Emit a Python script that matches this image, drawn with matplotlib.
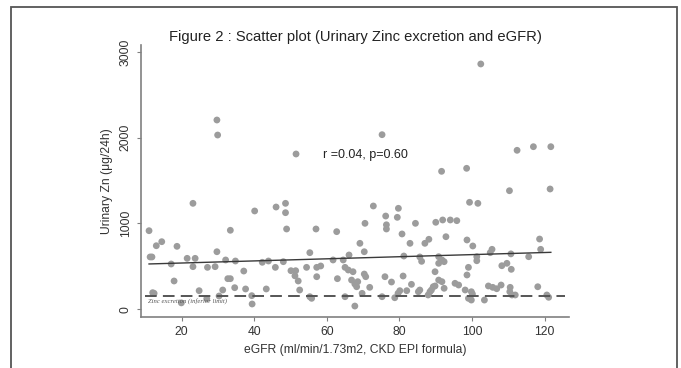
import numpy as np
import matplotlib
matplotlib.use("Agg")
import matplotlib.pyplot as plt
from matplotlib.patches import Rectangle

plt.rcParams['font.family'] = ['Liberation Sans', 'DejaVu Sans']

# eGFR (x) and urinary zinc (y)
egfr = [11.0, 13.0, 14.5, 18.7, 11.3, 11.8, 17.1, 21.5, 23.7, 23.1, 27.1, 29.2, 29.7, 33.4,
        32.1, 34.8, 17.9, 12.0, 12.4, 24.8, 19.9, 26.9, 30.3, 31.3, 32.7, 33.4, 34.6, 37.1,
        37.6, 39.3, 39.4, 40.1, 46.0, 48.6, 48.6, 48.9, 42.2, 43.9, 43.3, 45.8, 48.0, 23.1,
        29.7, 29.9, 51.5,
        57.0, 62.7, 72.8, 70.5, 76.2, 76.4, 76.4, 79.7, 79.4, 84.4, 80.7, 82.9, 87.0, 88.1,
        69.1, 70.3, 55.3, 66.1, 64.5, 61.7, 81.2, 86.1, 85.6, 50.1, 51.4, 51.2, 52.1, 54.4,
        57.2, 58.3, 57.2, 65.0, 65.9, 62.9, 67.2, 70.3, 70.7, 66.8, 67.7, 68.5, 68.2, 71.8,
        69.7, 76.0, 77.8, 81.0, 83.3, 85.6, 85.2, 82.0, 80.1, 79.6, 52.5, 55.3, 55.8, 65.0,
        67.7, 75.2, 78.7, 87.9, 88.8, 75.2,
        110.3, 121.5, 99.3, 101.6, 90.0, 91.9, 94.0, 95.8, 92.8, 98.6, 100.2, 105.5, 105.0,
        118.6, 118.9, 110.7, 115.6, 90.8, 91.7, 90.8, 92.3, 101.3, 101.3, 108.2, 109.6, 110.8,
        99.0, 98.6, 89.8, 90.8, 91.7, 92.3, 89.8, 95.3, 96.3, 98.1, 99.8, 100.1, 99.0, 99.8,
        103.4, 104.5, 105.7, 106.8, 108.0, 110.5, 111.0, 111.9, 118.1, 120.6, 121.1, 102.4,
        112.4, 116.9, 121.7, 91.6, 98.5, 88.4, 89.3, 110.4]
zinc = [916, 741, 788, 734, 610, 610, 528, 594, 594, 497, 489, 497, 671, 921,
        575, 563, 330, 194, 186, 217, 75, 124, 155, 225, 357, 357, 252, 446,
        237, 159, 62, 1146, 1192, 1235, 1126, 936, 548, 563, 237, 489, 555, 1235,
        2206, 2031, 1810,
        936, 905, 1204, 1002, 1087, 985, 936, 1177, 1072, 1002, 878, 769, 769, 816,
        769, 671, 660, 633, 575, 575, 621, 559, 610, 450, 450, 390, 330, 489,
        489, 505, 380, 489, 458, 357, 438, 411, 380, 341, 295, 322, 263, 256,
        186, 380, 318, 388, 291, 225, 205, 217, 217, 186, 225, 147, 128, 147,
        38, 147, 135, 167, 225, 2035,
        1382, 1402, 1247, 1235, 1014, 1041, 1041, 1033, 846, 808, 738, 699, 660,
        819, 699, 646, 613, 613, 575, 536, 555, 613, 566, 508, 536, 466,
        489, 400, 438, 341, 322, 245, 272, 303, 283, 225, 205, 178, 128, 108,
        108, 272, 256, 240, 283, 256, 167, 167, 263, 167, 140, 2859,
        1853, 1895, 1895, 1608, 1643, 205, 263, 205]

fit_intercept = 515
fit_slope = 1.224
lower_limit = 160
x_ticks = [20, 40, 60, 80, 100, 120]
y_ticks = [0, 1000, 2000, 3000]

fig = plt.figure(figsize=(6.81, 3.68), dpi=100)
ax = fig.add_axes([0.2066, 0.1378, 0.6289, 0.7399])

ax.scatter(egfr, zinc, s=24, color='#9c9c9c', edgecolors='none', zorder=2)

xs = np.array([min(egfr), max(egfr)])
ax.plot(xs, fit_intercept + fit_slope * xs, color='#3a3a3a', lw=1.0, zorder=3)
ax.axhline(lower_limit, xmin=0.01, xmax=0.99, color='#555555', lw=1.4,
           dashes=(6, 3.2), zorder=3)
ax.text(10.6, lower_limit - 30, 'Zinc excretion (inferior limit)', fontsize=4.8,
        style='italic', color='#555555', va='top', ha='left',
        family=['Liberation Serif', 'DejaVu Serif'])

ax.text(58.9, 1800, 'r =0.04, p=0.60', fontsize=9, color='#222222', va='center')

ax.set_xlim(8.7, 126.7)
ax.set_ylim(-93, 3080)
ax.set_xticks(x_ticks)
ax.set_yticks(y_ticks)
ax.set_yticklabels([str(v) for v in y_ticks], rotation=90, va='center')

for side in ['top', 'right']:
    ax.spines[side].set_visible(False)
for side in ['left', 'bottom']:
    ax.spines[side].set_color('#808080')
    ax.spines[side].set_linewidth(1.2)
ax.tick_params(colors='#808080', labelcolor='#333333', labelsize=8.7, length=3, width=0.8)

ax.set_xlabel('eGFR (ml/min/1.73m2, CKD EPI formula)', fontsize=8.7, color='#333333', labelpad=4)
ax.set_ylabel('Urinary Zn (\u03bcg/24h)', fontsize=8.7, color='#333333', labelpad=5)
fig.text(0.522, 0.899, 'Figure 2 : Scatter plot (Urinary Zinc excretion and eGFR)',
         fontsize=10.6, ha='center', va='center', color='#222222')

# outer frame of the figure panel
fig.patches.append(Rectangle((11 / 681, -0.02), 666 / 681, 1 - 7 / 368 + 0.02,
                             transform=fig.transFigure, fill=False,
                             edgecolor='#555555', lw=1.3))

fig.savefig('out.png', dpi=100)
